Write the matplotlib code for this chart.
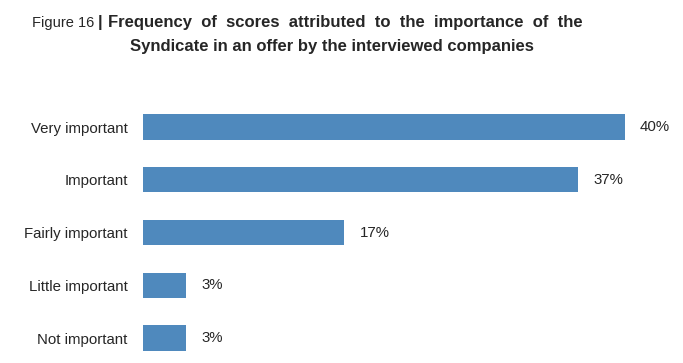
import matplotlib.pyplot as plt

# data
categories = ["Very important", "Important", "Fairly important", "Little important", "Not important"]
values = [40.0, 36.1, 16.7, 3.6, 3.6]
value_labels = ["40%", "37%", "17%", "3%", "3%"]

bar_color = "#4f89bd"
text_color = "#262626"

plt.rcParams['font.family'] = ['Liberation Sans', 'DejaVu Sans']

fig = plt.figure(figsize=(6.83, 3.63), dpi=100)
ax = fig.add_axes([143 / 683, -0.004, 530 / 683, 0.7267])

pos = list(range(len(categories)))
ax.barh(pos, values, height=0.48, color=bar_color)
ax.set_xlim(0, 44)
ax.set_ylim(4.5, -0.5)

ax.set_yticks(pos)
ax.set_yticklabels(categories, fontsize=10.8, color=text_color)
ax.tick_params(axis='y', length=0, pad=11)
ax.set_xticks([])
for s in ax.spines.values():
    s.set_visible(False)

for p, v, lab in zip(pos, values, value_labels):
    ax.annotate(lab, (v, p), xytext=(11, 0), textcoords='offset points',
                va='center', ha='left', fontsize=10.8, color=text_color)

# title
y1 = 1 - 23 / 363
fig.text(32 / 683, y1, "Figure 16", fontsize=10.5, color=text_color, va='center')
fig.text(98 / 683, y1, "|", fontsize=12, fontweight='bold', color=text_color, va='center')
fig.text(108 / 683, y1, "Frequency  of  scores  attributed  to  the  importance  of  the",
         fontsize=12, fontweight='bold', color=text_color, va='center')
fig.text(332 / 683, 1 - 46 / 363, "Syndicate in an offer by the interviewed companies",
         fontsize=12, fontweight='bold', color=text_color, va='center', ha='center')

fig.savefig("out.png", dpi=100)
